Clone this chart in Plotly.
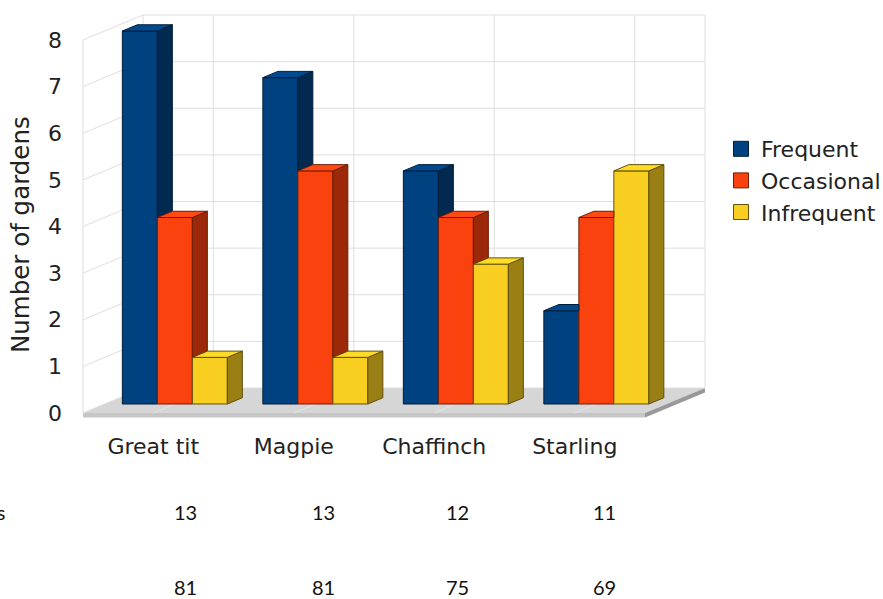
import plotly.graph_objects as go

# Survey of bird sightings in gardens
categories = ["Great tit", "Magpie", "Chaffinch", "Starling"]
series_names = ["Frequent", "Occasional", "Infrequent"]
frequent = [8, 7, 5, 2]
occasional = [4, 5, 4, 4]
infrequent = [1, 1, 3, 5]
y_ticks = [0, 1, 2, 3, 4, 5, 6, 7, 8]
GARDENS_SURVEYED = 16

series_values = [frequent, occasional, infrequent]
front_colors = ["#00427f", "#f9420e", "#f8ce21"]
side_colors = ["#022a50", "#9b2809", "#9a7f14"]
top_colors = ["#004a90", "#fe4a14", "#fddb26"]
edge_colors = ["#001d38", "#6e1d06", "#5f4e0c"]

# ---- page geometry (pixels) ----
FIG_W, FIG_H = 883, 599
PLOT_L, PLOT_R, PLOT_T, PLOT_B = 70, 722, 8, 425
FLOOR_LEFT_PX, FLOOR_FRONT_PX = 83, 413
CAT_PX = 140.5          # width of one category on the front plane
VAL_PX = 46.625         # height of one unit on the value axis

# oblique projection: full depth shifts right and up
DX = 60 / CAT_PX
DY = 25 / VAL_PX
Z0, Z1 = 0.36, 0.61     # depth span occupied by the bars
BAR_W = 35 / CAT_PX
FLOOR_T = 4.5 / VAL_PX
N = len(categories)
VMAX = y_ticks[-1]
X0, X1 = -0.5, N - 0.5

x_range = [X0 - (FLOOR_LEFT_PX - PLOT_L) / CAT_PX, X0 + (PLOT_R - FLOOR_LEFT_PX) / CAT_PX]
y_range = [-(PLOT_B - FLOOR_FRONT_PX) / VAL_PX, (FLOOR_FRONT_PX - PLOT_T) / VAL_PX]


def proj(x, v, z):
    return x + z * DX, v + z * DY


def path(points, close=True):
    s = "M " + " L ".join(f"{px:.5f},{py:.5f}" for px, py in points)
    return s + (" Z" if close else "")


GRID = "#dedede"
shapes = []

# floor slab
shapes.append(dict(type="path", layer="below", line=dict(width=0), fillcolor="#d6d6d6",
                   path=path([proj(X0, 0, 0), proj(X1, 0, 0), proj(X1, 0, 1), proj(X0, 0, 1)])))
shapes.append(dict(type="path", layer="below", line=dict(width=0), fillcolor="#c6c6c6",
                   path=path([proj(X0, 0, 0), proj(X1, 0, 0), proj(X1, -FLOOR_T, 0), proj(X0, -FLOOR_T, 0)])))
shapes.append(dict(type="path", layer="below", line=dict(width=0), fillcolor="#999999",
                   path=path([proj(X1, 0, 0), proj(X1, 0, 1), proj(X1, -FLOOR_T, 1), proj(X1, -FLOOR_T, 0)])))
# floor lines running into depth at each category
for c in range(N):
    shapes.append(dict(type="path", layer="below", line=dict(color="#e2e2e2", width=1),
                       path=path([proj(c, 0, 0), proj(c, 0, 1)], close=False)))

# back wall: horizontal value lines and vertical category lines
for v in y_ticks:
    shapes.append(dict(type="path", layer="below", line=dict(color=GRID, width=1),
                       path=path([proj(X0, v, 1), proj(X1, v, 1)], close=False)))
for c in [X0] + list(range(N)) + [X1]:
    shapes.append(dict(type="path", layer="below", line=dict(color=GRID, width=1),
                       path=path([proj(c, 0, 1), proj(c, VMAX, 1)], close=False)))
# left wall
for v in y_ticks:
    shapes.append(dict(type="path", layer="below", line=dict(color=GRID, width=1),
                       path=path([proj(X0, v, 0), proj(X0, v, 1)], close=False)))
shapes.append(dict(type="path", layer="below", line=dict(color=GRID, width=1),
                   path=path([proj(X0, 0, 0), proj(X0, VMAX, 0)], close=False)))

fig = go.Figure()

# front faces of the bars
for s, (name, vals) in enumerate(zip(series_names, series_values)):
    xs = [c + (s - 1) * BAR_W + Z0 * DX for c in range(N)]
    fig.add_trace(go.Bar(
        x=xs, y=vals, base=Z0 * DY, width=BAR_W, name=name, legendgroup=name, showlegend=False,
        marker=dict(color=front_colors[s], line=dict(color=edge_colors[s], width=1)),
        hoverinfo="skip",
    ))

# side and top faces, drawn left to right so nearer faces cover farther ones
for s, vals in enumerate(series_values):
    nxt = series_values[s + 1] if s + 1 < len(series_values) else [0] * N
    side_x, side_y, top_x, top_y = [], [], [], []
    for c in range(N):
        v = vals[c]
        xl = c + (s - 1) * BAR_W - BAR_W / 2
        xr = xl + BAR_W
        lo = nxt[c]
        if lo < v:
            pts = [proj(xr, lo, Z0), proj(xr, v, Z0), proj(xr, v, Z1), proj(xr, lo, Z1), proj(xr, lo, Z0)]
            side_x += [p[0] for p in pts] + [None]
            side_y += [p[1] for p in pts] + [None]
        if nxt[c] > v:
            # the taller neighbour hides the right part of this top
            fr = proj(xr, v, Z0)
            bl = proj(xl, v, Z1)
            pts = [proj(xl, v, Z0), fr, (fr[0], bl[1]), bl, proj(xl, v, Z0)]
        else:
            pts = [proj(xl, v, Z0), proj(xr, v, Z0), proj(xr, v, Z1), proj(xl, v, Z1), proj(xl, v, Z0)]
        top_x += [p[0] for p in pts] + [None]
        top_y += [p[1] for p in pts] + [None]
    for fx, fy, col in [(side_x, side_y, side_colors[s]), (top_x, top_y, top_colors[s])]:
        fig.add_trace(go.Scatter(
            x=fx, y=fy, mode="lines", fill="toself", fillcolor=col,
            line=dict(color=edge_colors[s], width=1), showlegend=False, hoverinfo="skip",
            legendgroup=series_names[s],
        ))

# legend keys: square swatches for each series
for s, name in enumerate(series_names):
    fig.add_trace(go.Scatter(
        x=[None], y=[None], mode="markers", name=name, legendgroup=name,
        marker=dict(symbol="square", size=15, color=front_colors[s],
                    line=dict(color=edge_colors[s], width=1)),
    ))

# table beneath the chart: gardens where seen, and share of all gardens
totals = [sum(v[c] for v in series_values) for c in range(N)]
percents = [round(100 * t / GARDENS_SURVEYED) for t in totals]
TABLE_COL_PX = [185, 323.5, 457, 604]
ROW_PX = [512, 587]
pw = PLOT_R - PLOT_L
ph = PLOT_B - PLOT_T
annotations = []
table_font = dict(family="Lato, sans-serif", size=20, color="#111111")
for row, vals in zip(ROW_PX, [totals, percents]):
    for xp, val in zip(TABLE_COL_PX, vals):
        annotations.append(dict(
            x=(xp - PLOT_L) / pw, y=(PLOT_B - row) / ph, xref="paper", yref="paper",
            text=str(val), showarrow=False, xanchor="center", yanchor="middle", font=table_font,
        ))
annotations.append(dict(
    x=(7 - PLOT_L) / pw, y=(PLOT_B - ROW_PX[0]) / ph, xref="paper", yref="paper",
    text="Total gardens", showarrow=False, xanchor="right", yanchor="middle", font=table_font,
))
annotations.append(dict(
    x=(21 - PLOT_L) / pw, y=(PLOT_B - 235) / ph, xref="paper", yref="paper",
    text="Number of gardens", textangle=-90, showarrow=False, xanchor="center", yanchor="middle",
    font=dict(family="DejaVu Sans", size=24.5, color="#222222"),
))

axis_font = dict(family="DejaVu Sans", size=22, color="#222222")
fig.update_layout(
    width=FIG_W, height=FIG_H,
    margin=dict(l=PLOT_L, r=FIG_W - PLOT_R, t=PLOT_T, b=FIG_H - PLOT_B, pad=0, autoexpand=False),
    paper_bgcolor="white", plot_bgcolor="white",
    barmode="overlay",
    shapes=shapes,
    annotations=annotations,
    xaxis=dict(range=x_range, tickvals=list(range(N)), ticktext=categories, showgrid=False,
               zeroline=False, showline=False, ticks="", tickfont=axis_font, ticklabelstandoff=6,
               fixedrange=True),
    yaxis=dict(range=y_range, tickvals=y_ticks, showgrid=False, zeroline=False, showline=False,
               ticks="", tickfont=axis_font, ticklabelstandoff=7, fixedrange=True),
    legend=dict(x=(721 - PLOT_L) / pw, y=(PLOT_B - 128) / ph, xanchor="left", yanchor="top",
                font=axis_font, bgcolor="rgba(0,0,0,0)", borderwidth=0, tracegroupgap=0),
    showlegend=True,
)

fig.write_html("out.html")
